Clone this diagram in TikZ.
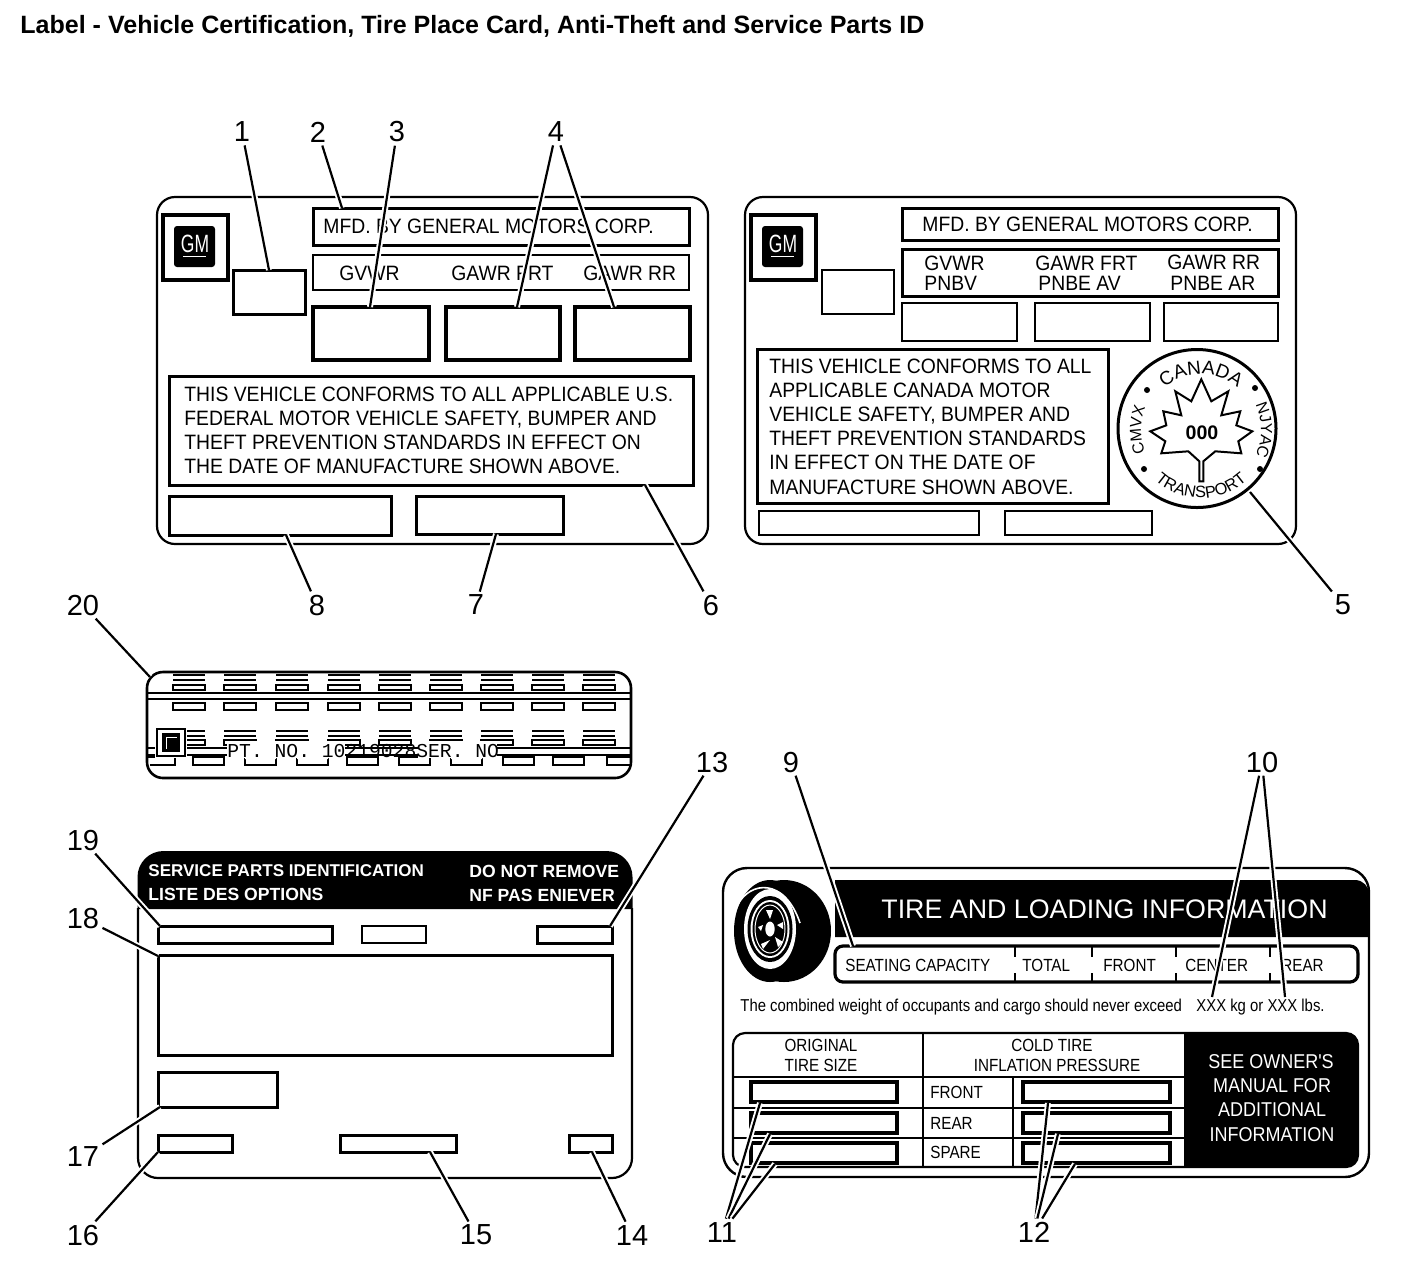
\documentclass[tikz,border=0pt]{standalone}
\usepackage{fontspec}
\setmainfont{Liberation Sans}
\setmonofont{Liberation Mono}
\newfontface\narrowf[FakeStretch=0.865]{Liberation Sans}
\newfontface\cardf[FakeStretch=0.93]{Liberation Sans}
\newfontface\seef[FakeStretch=0.9]{Liberation Sans}
\newfontface\gmf[FakeStretch=0.7]{Liberation Sans}
\usetikzlibrary{decorations.text}
\newcommand{\sealA}{\fontsize{9.5}{9.5}\selectfont}
\newcommand{\sealB}{\fontsize{8}{8}\selectfont}
\newcommand{\sealC}{\fontsize{8.2}{8.2}\selectfont}
\tikzset{
  x=0.5pt,y=-0.5pt,
  num/.style={font=\fontsize{14.5}{15}\selectfont,inner sep=1.5pt,text=black},
  leader/.style={line width=1.1pt,black,preaction={draw,white,line width=3pt}},
  txt/.style={anchor=base west,inner sep=0pt,font=\cardf\fontsize{10.4}{12}\selectfont},
  ctr/.style={anchor=base,inner sep=0pt,font=\narrowf\fontsize{8.8}{11}\selectfont},
  seetxt/.style={anchor=base,inner sep=0pt,text=white,font=\seef\fontsize{10}{11}\selectfont},
  wtxt/.style={anchor=base west,inner sep=0pt,text=white,font=\bfseries\fontsize{8.8}{10}\selectfont},
  thinbox/.style={draw=black,line width=1pt},
  medbox/.style={draw=black,line width=1.5pt},
  fatbox/.style={draw=black,line width=2pt},
  card/.style={draw=black,line width=1.1pt,rounded corners=9pt},
  strip/.style={draw=black,line width=0.9pt},
  tire/.style={anchor=base west,inner sep=0pt,font=\narrowf\fontsize{8.8}{10}\selectfont},
  gmtxt/.style={anchor=center,inner sep=0pt,text=white,font=\gmf\fontsize{12.5}{13}\selectfont},
}
\begin{document}
\begin{tikzpicture}
\useasboundingbox (0,0) rectangle (1408,1282);
\node[anchor=base west,inner sep=0pt,font=\bfseries\fontsize{12.52}{14}\selectfont] (title) at (20,33) {Label - Vehicle Certification, Tire Place Card, Anti-Theft and Service Parts ID};

%% ---- card 1
\draw[card] (157,197) rectangle (708,544);
\draw[fatbox] (163,215) rectangle (228,280);
\fill[black,rounded corners=1.5pt] (174,226) rectangle (215,267);
\node[gmtxt] (gma) at (195,244) {GM};
\draw[white,line width=0.5pt] (183,256) -- (206,256);
\draw[medbox] (233,270) rectangle (305,314);
\draw[medbox] (313,208) rectangle (689,245);
\draw[thinbox] (313,255) rectangle (689,290);
\draw[fatbox] (313,307) rectangle (429,360);
\draw[fatbox] (446,307) rectangle (560,360);
\draw[fatbox] (575,307) rectangle (690,360);
\draw[medbox] (169,376) rectangle (693,485);
\draw[medbox] (169,496) rectangle (391,535);
\draw[medbox] (416,496) rectangle (563,534);
\node[txt] (a1) at (323,233) {MFD. BY GENERAL MOTORS CORP.};
\node[txt] (a2) at (339,280) {GVWR};
\node[txt] (a3) at (451,280) {GAWR FRT};
\node[txt] (a4) at (583,280) {GAWR RR};
\node[txt] (a5) at (184,401) {THIS VEHICLE CONFORMS TO ALL APPLICABLE U.S.};
\node[txt] (a6) at (184,425) {FEDERAL MOTOR VEHICLE SAFETY, BUMPER AND};
\node[txt] (a7) at (184,449) {THEFT PREVENTION STANDARDS IN EFFECT ON};
\node[txt] (a8) at (184,473) {THE DATE OF MANUFACTURE SHOWN ABOVE.};

%% ---- card 2
\draw[card] (745,197) rectangle (1296,544);
\draw[fatbox] (751,215) rectangle (816,280);
\fill[black,rounded corners=1.5pt] (762,226) rectangle (803,267);
\node[gmtxt] (gmb) at (783,244) {GM};
\draw[white,line width=0.5pt] (771,256) -- (794,256);
\draw[thinbox] (822,270) rectangle (894,314);
\draw[medbox] (902,208) rectangle (1278,240);
\draw[medbox] (902,249) rectangle (1278,296);
\draw[thinbox] (902,303) rectangle (1017,341);
\draw[thinbox] (1035,303) rectangle (1150,341);
\draw[thinbox] (1164,303) rectangle (1278,341);
\draw[medbox] (757,349) rectangle (1108,503);
\draw[thinbox] (759,511) rectangle (979,535);
\draw[thinbox] (1005,511) rectangle (1152,535);
\node[txt] (b1) at (922,231) {MFD. BY GENERAL MOTORS CORP.};
\node[txt] (b2) at (924,270) {GVWR};
\node[txt] (b3) at (924,290) {PNBV};
\node[txt] (b4) at (1035,270) {GAWR FRT};
\node[txt] (b5) at (1038,290) {PNBE AV};
\node[txt] (b6) at (1167,269) {GAWR RR};
\node[txt] (b7) at (1170,290) {PNBE AR};
\node[txt] (b8) at (769,373) {THIS VEHICLE CONFORMS TO ALL};
\node[txt] (b9) at (769,397) {APPLICABLE CANADA MOTOR};
\node[txt] (b10) at (769,421) {VEHICLE SAFETY, BUMPER AND};
\node[txt] (b11) at (769,445) {THEFT PREVENTION STANDARDS};
\node[txt] (b12) at (769,469) {IN EFFECT ON THE DATE OF};
\node[txt] (b13) at (769,494) {MANUFACTURE SHOWN ABOVE.};

%% seal
\begin{scope}[shift={(1201,430)},x=0.5pt,y=0.5pt]
  \draw[black,line width=1.5pt] (-4,1.5) circle (79);
  \begin{scope}[shift={(-2.7,1.7)}]
  \draw[black,line width=1pt,line join=miter] (3,49) -- (13,27) -- (30,37) -- (23,13) -- (42,17) -- (38,3) -- (54,-3) -- (40,-13) -- (43,-25) -- (17,-23) -- (5,-33) -- (5,-53) -- (1,-53) -- (1,-33) -- (-10,-23) -- (-37,-25) -- (-33,-13) -- (-48,-3) -- (-32,3) -- (-35,17) -- (-17,13) -- (-23,37) -- (-7,27) -- cycle;
  \end{scope}
  \path[decorate,decoration={text along path,text={|\sealA|CANADA},text align=center}] (140:56) arc[start angle=140,end angle=40,radius=56];
  \path[decorate,decoration={text along path,text={|\sealB|NJYAC},text align=center}] (40:60) arc[start angle=40,end angle=-40,radius=60];
  \path[decorate,decoration={text along path,text={|\sealB|CMVX},text align=center}] (220:60) arc[start angle=220,end angle=140,radius=60];
  \path[decorate,decoration={text along path,text={|\sealC|TRANSPORT},text align=center}] (210:68) arc[start angle=210,end angle=330,radius=68];
  \foreach \p in {(-54,40),(54,42),(-57,-39),(59,-39)}{\fill[black] \p circle (3);}
  \node[anchor=center,inner sep=0pt,font=\bfseries\fontsize{9.8}{10}\selectfont] (seal) at (1,-3) {000};
\end{scope}

%% ---- strip card
\draw[black,line width=1.3pt,rounded corners=8pt] (147,672) rectangle (631,778);
\draw[black,line width=1pt] (147,693) -- (631,693) (147,699) -- (631,699);
\foreach \x in {173,224,276,328,379,430,481,532,583}{
  \draw[strip] (\x,675) -- ++(32,0) (\x,680) -- ++(32,0);
  \draw[strip] (\x,685) rectangle ++(32,5);
  \draw[strip] (\x,703) rectangle ++(32,7);
  \draw[strip] (\x,731) -- ++(32,0);
  \draw[strip] (\x,736) -- ++(32,0);
  \draw[strip] (\x,740) rectangle ++(32,5);
}
\draw[black,line width=1pt] (147,748) -- (631,748) (147,755) -- (631,755);
\foreach \x in {193,245,297,347,399,451,503,553}{
  \draw[strip] (\x,757) rectangle ++(31,8);
}
\draw[strip] (147,757) -- (175,757) -- (175,765) -- (150,765);
\draw[strip] (630,757) -- (607,757) -- (607,765) -- (630,765);
\fill[white] (227,741) rectangle (345,757.5);
\fill[white] (418,741) rectangle (497,757.5);
\fill[white] (245,756) rectangle (276,759) (297,756) rectangle (328,759) (451,756) rectangle (482,759);
\fill[white] (155,727) rectangle (187,758);
\draw[black,line width=1.2pt] (157,729) rectangle (185,756);
\draw[black,line width=0.8pt,fill=black] (163,734) rectangle (179,751);
\draw[white,line width=0.4pt] (166,749) -- (166,737) -- (177,737);
\node[anchor=base west,inner sep=0pt,font=\ttfamily\fontsize{9.84}{12}\selectfont] (pt) at (227,757) {PT. NO. 10219028SER. NO.};

%% ---- service parts card
\fill[black] (137.5,909) -- (137.5,876) [rounded corners=13pt] -- (137.5,851) -- (632.5,851) [sharp corners] -- (632.5,909) -- cycle;
\draw[black,line width=1.1pt,rounded corners=10pt] (138,908) -- (138,1178) -- (632,1178) -- (632,908);
\node[wtxt,font=\bfseries\fontsize{8.52}{10}\selectfont] (c1) at (148,876) {SERVICE PARTS IDENTIFICATION};
\node[wtxt] (c2) at (148,900) {LISTE DES OPTIONS};
\node[wtxt] (c3) at (469,877) {DO NOT REMOVE};
\node[wtxt] (c4) at (469,901) {NF PAS ENIEVER};
\draw[medbox] (158,926) rectangle (332,943);
\draw[thinbox] (362,926) rectangle (426,943);
\draw[medbox] (537,926) rectangle (612,943);
\draw[medbox] (158,955) rectangle (612,1055);
\draw[medbox] (158,1072) rectangle (277,1107);
\draw[medbox] (158,1135) rectangle (232,1152);
\draw[medbox] (340,1135) rectangle (456,1152);
\draw[medbox] (569,1135) rectangle (612,1152);

%% ---- tire card
\draw[black,line width=1.2pt,rounded corners=12pt] (723,868) rectangle (1369,1177);
\fill[black,rounded corners=7pt] (835,880) -- (1369,880) [sharp corners] -- (1369,937) -- (835,937) -- cycle;
\fill[black] (835,880) rectangle (860,900);
\node[anchor=base west,inner sep=0pt,text=white,font=\fontsize{13.4}{15}\selectfont] (d1) at (881,918) {TIRE AND LOADING INFORMATION};
% tire
\fill[black] (784,931) ellipse [x radius=47,y radius=51];
\fill[black] (770,931) ellipse [x radius=36,y radius=51];
\fill[white] (770,929) ellipse [x radius=26,y radius=40];
\fill[black] (770,929) ellipse [x radius=22.5,y radius=33];
\fill[white] (770,929) ellipse [x radius=19.5,y radius=29];
\fill[black] (770,929) ellipse [x radius=17.5,y radius=27];
\draw[white,line width=0.5pt] (770,929) ellipse [x radius=15,y radius=24];
\fill[white] (770,929) ellipse [x radius=4.7,y radius=7.5];
\fill[white] (766,910) -- (773,910) -- (770,919) -- cycle;
\fill[white] (783,922) -- (783,929) -- (777,925) -- cycle;
\fill[white] (761,944) -- (770,940) -- (763,949) -- cycle;
\fill[white] (775,937) -- (783,942) -- (778,947) -- cycle;
\fill[white] (758,927) -- (763,925) -- (761,931) -- cycle;
\draw[white,line width=0.8pt] (737,906) .. controls (750,880) and (785,878) .. (800,923);
\draw[black,line width=1.6pt,rounded corners=4pt] (835,946) rectangle (1358,982);
\foreach \x in {1015,1092,1176,1270}{\draw[black,line width=0.8pt] (\x,947) -- (\x,957) (\x,973) -- (\x,982);}
\node[tire] (e1) at (845,971) {SEATING CAPACITY};
\node[tire] (e2) at (1022,971) {TOTAL};
\node[tire] (e3) at (1103,971) {FRONT};
\node[tire] (e4) at (1185,971) {CENTER};
\node[tire] (e5) at (1281,971) {REAR};
\node[tire,font=\narrowf\fontsize{8.6}{10}\selectfont] (e6) at (740,1011) {The combined weight of occupants and cargo should never exceed};
\node[tire,font=\narrowf\fontsize{8.6}{10}\selectfont] (e7) at (1196,1011) {XXX kg or XXX lbs.};
% table
\fill[black] (1184,1033) [rounded corners=6pt] -- (1358,1033) -- (1358,1167) [sharp corners] -- (1184,1167) -- cycle;
\draw[black,line width=1.1pt,rounded corners=6pt] (733,1033) rectangle (1358,1167);
\draw[black,line width=1pt] (733,1077) -- (1184,1077) (733,1108) -- (1184,1108) (733,1138) -- (1184,1138);
\draw[black,line width=1.1pt] (923,1033) -- (923,1167) (1013,1077) -- (1013,1167);
\draw[fatbox] (751,1082) rectangle (897,1102);
\draw[fatbox] (751,1113) rectangle (897,1133);
\draw[fatbox] (751,1143) rectangle (897,1163);
\draw[fatbox] (1023,1082) rectangle (1170,1102);
\draw[fatbox] (1023,1113) rectangle (1170,1133);
\draw[fatbox] (1023,1143) rectangle (1170,1163);
\node[ctr] (f1) at (821,1051) {ORIGINAL};
\node[ctr] (f2) at (821,1071) {TIRE SIZE};
\node[ctr] (f3) at (1052,1051) {COLD TIRE};
\node[ctr] (f4) at (1057,1071) {INFLATION PRESSURE};
\node[tire] (f5) at (930,1098) {FRONT};
\node[tire] (f6) at (930,1129) {REAR};
\node[tire] (f7) at (930,1158) {SPARE};
\node[seetxt] (g1) at (1271,1068) {SEE OWNER'S};
\node[seetxt] (g2) at (1272,1092) {MANUAL FOR};
\node[seetxt] (g3) at (1272,1116) {ADDITIONAL};
\node[seetxt] (g4) at (1272,1141) {INFORMATION};

%% ---- number labels
\node[num] (n1) at (242,132) {1};
\node[num] (n2) at (318,132) {2};
\node[num] (n3) at (397,132) {3};
\node[num] (n4) at (556,132) {4};
\node[num] (n5) at (1343,605) {5};
\node[num] (n6) at (711,605) {6};
\node[num] (n7) at (476,605) {7};
\node[num] (n8) at (317,605) {8};
\node[num] (n9) at (791,762) {9};
\node[num] (n10) at (1262,762) {10};
\node[num] (n11) at (722,1232) {11};
\node[num] (n12) at (1034,1232) {12};
\node[num] (n13) at (712,762) {13};
\node[num] (n14) at (632,1235) {14};
\node[num] (n15) at (476,1235) {15};
\node[num] (n16) at (83,1235) {16};
\node[num] (n17) at (83,1157) {17};
\node[num] (n18) at (83,918) {18};
\node[num] (n19) at (83,840) {19};
\node[num] (n20) at (83,605) {20};

%% ---- leader ends
\coordinate (t1) at (269,270);
\coordinate (t2) at (342,208);
\coordinate (t3) at (370,307);
\coordinate (t4a) at (517,307);
\coordinate (t4b) at (614,307);
\coordinate (t5) at (1250,492);
\coordinate (t6) at (645,485);
\coordinate (t7) at (496,534);
\coordinate (t8) at (286,535);
\coordinate (t9) at (853,946);
\coordinate (t10a) at (1212,997);
\coordinate (t10b) at (1285,997);
\coordinate (t11a) at (760,1103);
\coordinate (t11b) at (770,1134);
\coordinate (t11c) at (775,1164);
\coordinate (t12a) at (1048,1103);
\coordinate (t12b) at (1058,1134);
\coordinate (t12c) at (1075,1164);
\coordinate (t13) at (610,926);
\coordinate (t14) at (592,1152);
\coordinate (t15) at (430,1152);
\coordinate (t16) at (158,1152);
\coordinate (t17) at (160,1107);
\coordinate (t18) at (158,956);
\coordinate (t19) at (160,926);
\coordinate (t20) at (150,677);

\foreach \n/\t in {n1/t1,n2/t2,n3/t3,n4/t4a,n4/t4b,n5/t5,n6/t6,n7/t7,n8/t8,n9/t9,n10/t10a,n10/t10b,n11/t11a,n11/t11b,n11/t11c,n12/t12a,n12/t12b,n12/t12c,n13/t13,n14/t14,n15/t15,n16/t16,n17/t17,n18/t18,n19/t19,n20/t20}{
  \draw[leader] (\n) -- (\t);
}
\end{tikzpicture}
\end{document}
